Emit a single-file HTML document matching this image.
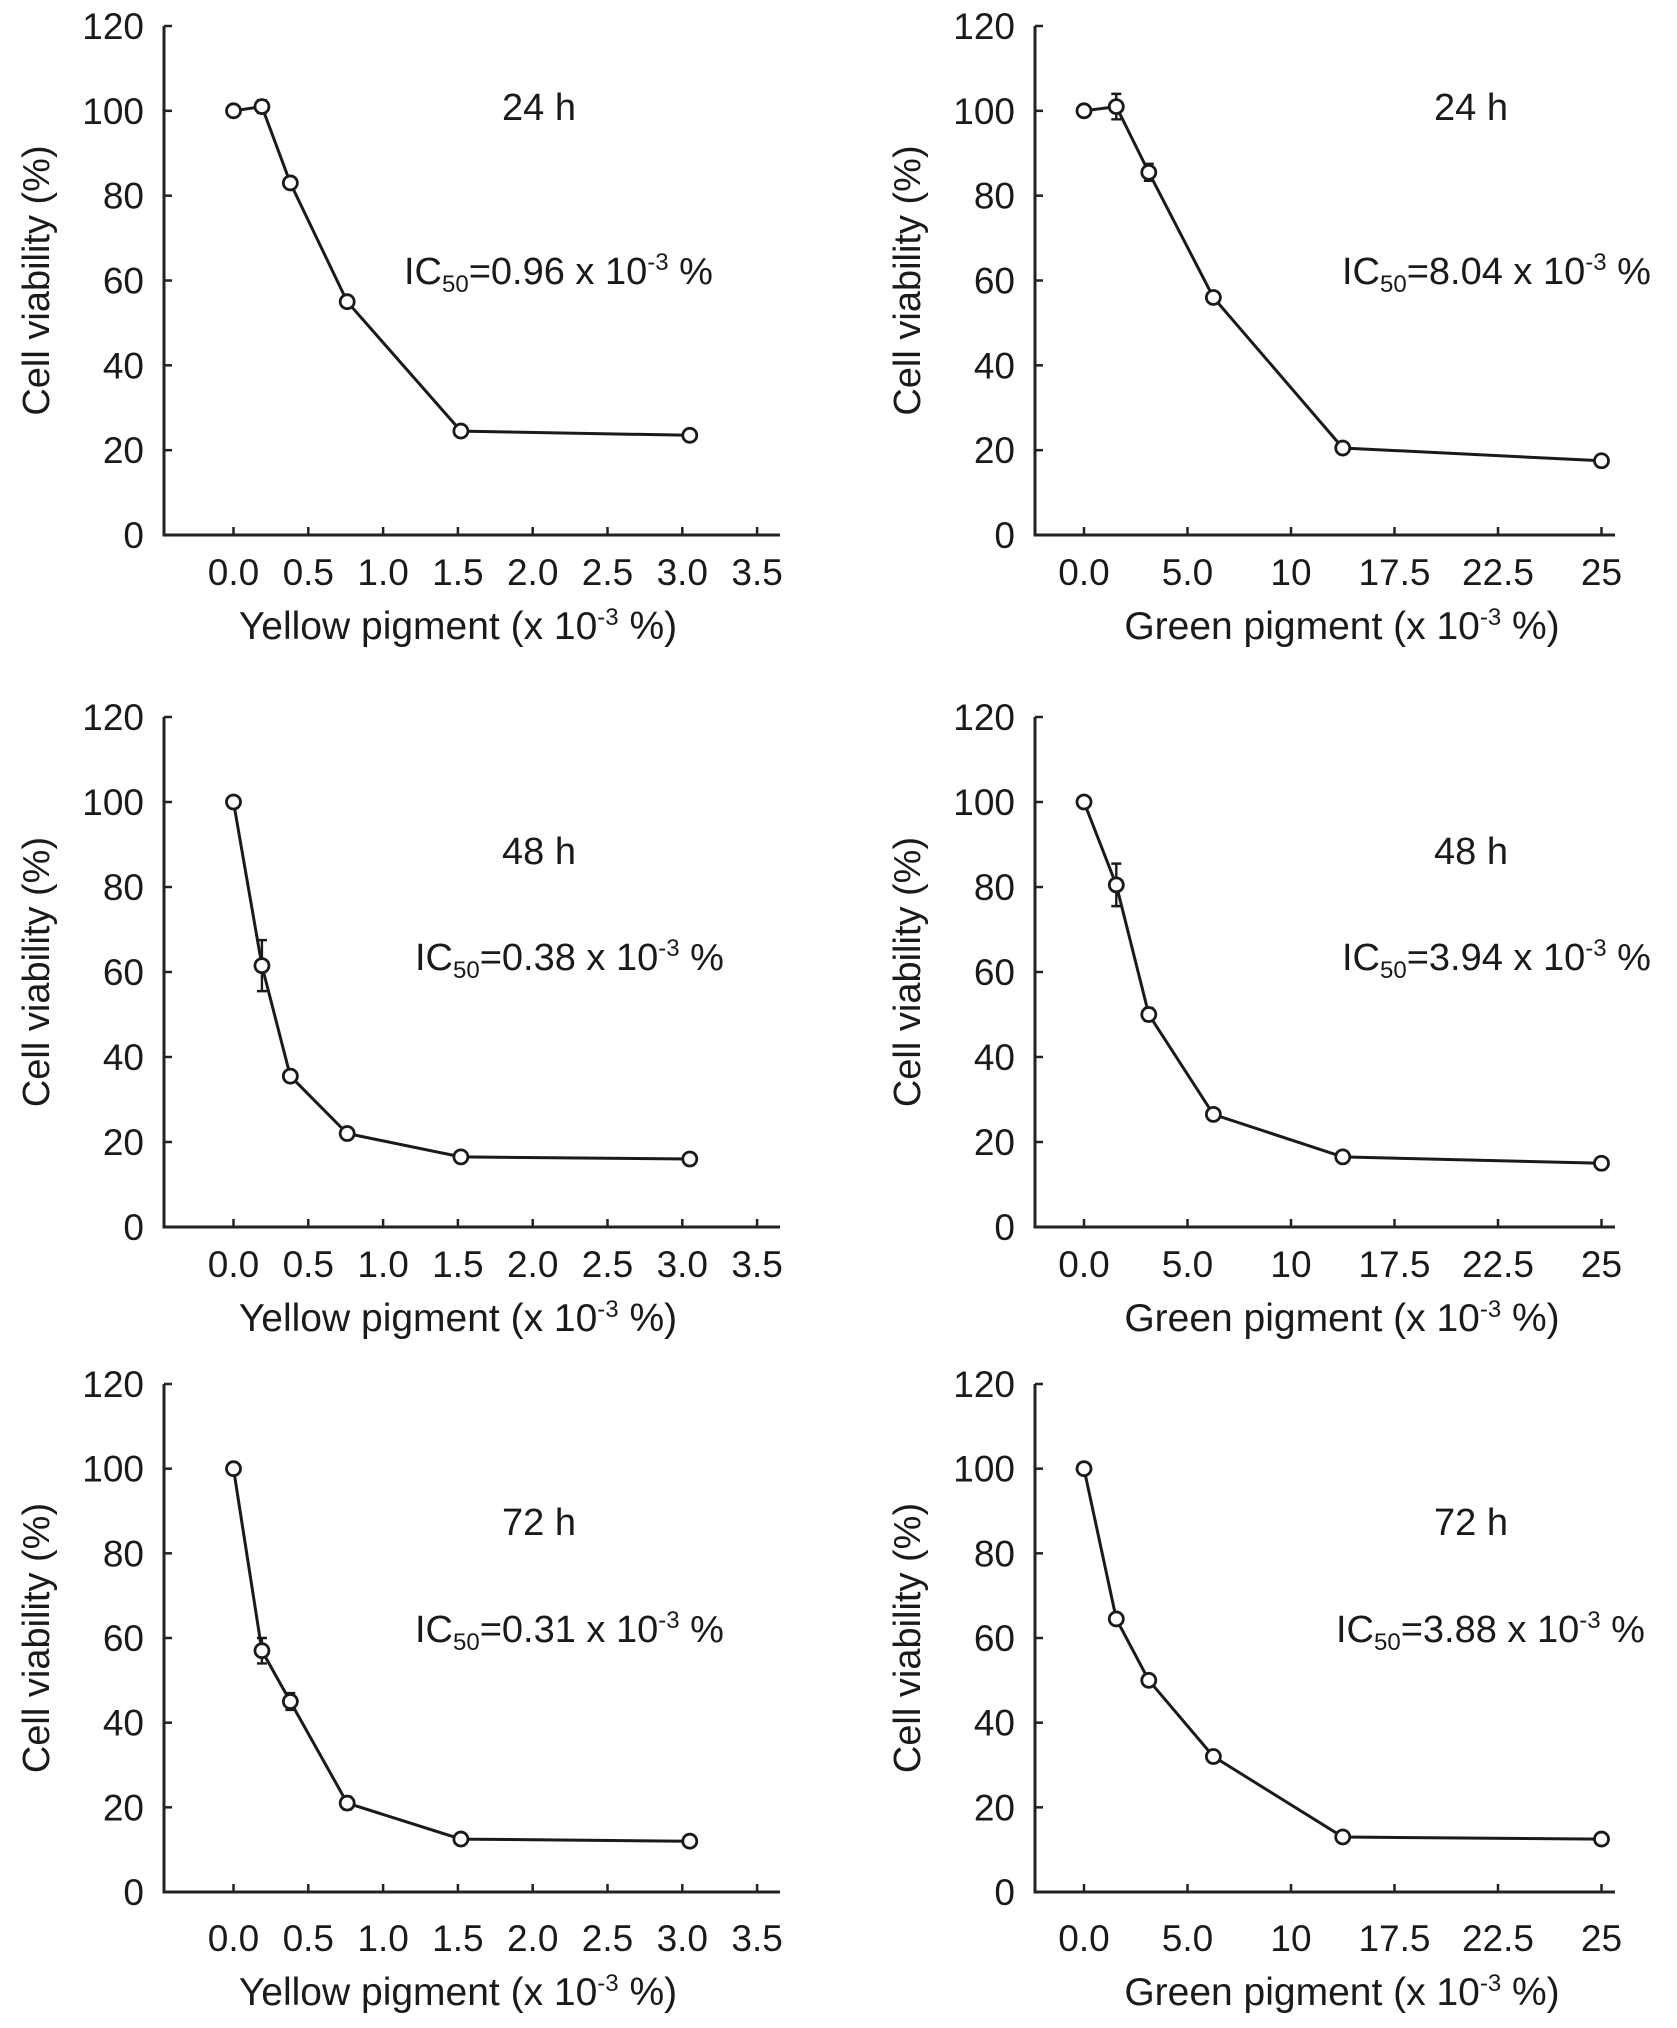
<!DOCTYPE html>
<html><head><meta charset="utf-8"><style>
html,body{margin:0;padding:0;background:#fff}
svg{display:block}
text{font-family:"Liberation Sans",sans-serif;fill:#1a1a1a}
</style></head><body>
<svg id="fig" width="1677" height="2028" viewBox="0 0 1677 2028" xmlns="http://www.w3.org/2000/svg"></svg>
<script>
const yellowX = [0, 0.19, 0.38, 0.76, 1.52, 3.05];
const greenX = [0, 1.56, 3.13, 6.25, 12.5, 25];
const yellowTickLabels = ["0.0","0.5","1.0","1.5","2.0","2.5","3.0","3.5"];
const greenTickLabels = ["0.0","5.0","10","17.5","22.5","25"];
const yTicks = [0,20,40,60,80,100,120];
const y24Yellow = [100, 101, 83, 55, 24.5, 23.5];
const y24YellowErr = [0, 1.5, 0, 0, 0, 0];
const y24Green = [100, 101, 85.5, 56, 20.5, 17.5];
const y24GreenErr = [0, 3, 2, 0, 0, 0];
const y48Yellow = [100, 61.5, 35.5, 22, 16.5, 16];
const y48YellowErr = [0, 6, 1, 0, 1, 0];
const y48Green = [100, 80.5, 50, 26.5, 16.5, 15];
const y48GreenErr = [0, 5, 1.5, 0, 1, 1];
const y72Yellow = [100, 57, 45, 21, 12.5, 12];
const y72YellowErr = [0, 3, 2, 1.5, 0, 0];
const y72Green = [100, 64.5, 50, 32, 13, 12.5];
const y72GreenErr = [0, 0, 0, 0, 0, 0];

const NS = "http://www.w3.org/2000/svg";
const svg = document.getElementById('fig');
function mk(tag, attrs, parent){const e=document.createElementNS(NS,tag);for(const k in attrs)e.setAttribute(k,attrs[k]);(parent||svg).appendChild(e);return e;}

const rows = [{top:26,bottom:535,lo:0},{top:717,bottom:1227,lo:0},{top:1384,bottom:1892,lo:9}];
const panels = [
 {row:0,side:'L',vals:y24Yellow,err:y24YellowErr,time:'24 h',ic:'0.96 x 10',name:'yellow-24h'},
 {row:0,side:'R',vals:y24Green,err:y24GreenErr,time:'24 h',ic:'8.04 x 10',name:'green-24h'},
 {row:1,side:'L',vals:y48Yellow,err:y48YellowErr,time:'48 h',ic:'0.38 x 10',name:'yellow-48h'},
 {row:1,side:'R',vals:y48Green,err:y48GreenErr,time:'48 h',ic:'3.94 x 10',name:'green-48h'},
 {row:2,side:'L',vals:y72Yellow,err:y72YellowErr,time:'72 h',ic:'0.31 x 10',name:'yellow-72h'},
 {row:2,side:'R',vals:y72Green,err:y72GreenErr,time:'72 h',ic:'3.88 x 10',name:'green-72h'}
];
const timeY=[107,851,1522], icY=[271,957,1629];

panels.forEach(p=>{
  const r=rows[p.row];
  const g=mk('g',{});
  
  
  const L = p.side==='L';
  const ax0 = L?164:1035, ax1 = L?780:1615;
  const xs = L?yellowX:greenX;
  const x0 = L?233.5:1084, perUnit = L?149.6:20.7;
  const X = v=>x0+v*perUnit;
  const Y = v=>r.bottom-(v/120)*(r.bottom-r.top);
  const axes=mk('path',{d:`M${ax0} ${r.top} V${r.bottom} H${ax1}`,fill:'none',stroke:'#222','stroke-width':3},g);
  
  
  yTicks.forEach(t=>{
    mk('line',{x1:ax0,x2:ax0+8,y1:Y(t),y2:Y(t),stroke:'#222','stroke-width':2.5},g);
    const tx=mk('text',{x:ax0-20,y:Y(t)+13,'text-anchor':'end','font-size':37},g);
    tx.textContent=t;
    
    
  });
  const labs = L?yellowTickLabels:greenTickLabels;
  labs.forEach((lab,i)=>{
    const v = L? i*0.5 : i*5;
    const xx=X(v);
    mk('line',{x1:xx,x2:xx,y1:r.bottom,y2:r.bottom-8,stroke:'#222','stroke-width':2.5},g);
    const tx=mk('text',{x:xx,y:r.bottom+50+r.lo,'text-anchor':'middle','font-size':37},g);
    tx.textContent=lab;
    
    
  });
  const yl=mk('text',{x:0,y:0,'text-anchor':'middle','font-size':38,transform:`translate(${L?49:920} ${(r.top+r.bottom)/2}) rotate(-90)`},g);
  yl.textContent='Cell viability (%)';
  
  
  const xl=mk('text',{x:L?458:1342,y:r.bottom+104+r.lo,'text-anchor':'middle','font-size':39},g);
  xl.innerHTML=(L?'Yellow':'Green')+' pigment (x 10<tspan font-size="24" dy="-14">-3</tspan><tspan dy="14"> %)</tspan>';
  
  
  const tt=mk('text',{x:L?539:1471,y:timeY[p.row]+13,'text-anchor':'middle','font-size':38},g);
  tt.textContent=p.time;
  
  
  const ic=mk('text',{x:L?(p.row===0?404:415):(p.row===2?1336:1342),y:icY[p.row]+13,'font-size':38},g);
  ic.innerHTML='IC<tspan font-size="24" dy="8">50</tspan><tspan dy="-8">='+p.ic+'</tspan><tspan font-size="24" dy="-14">-3</tspan><tspan dy="14"> %</tspan>';
  
  
  const pts=xs.map((x,i)=>X(x).toFixed(1)+','+Y(p.vals[i]).toFixed(1)).join(' ');
  const ln=mk('polyline',{points:pts,fill:'none',stroke:'#1a1a1a','stroke-width':3},g);
  
  
  xs.forEach((x,i)=>{
    const e=p.err[i];
    if(e>0){
      const cx=X(x),y1=Y(p.vals[i]+e),y2=Y(p.vals[i]-e);
      const eb=mk('path',{d:`M${cx} ${y1} V${y2} M${cx-5} ${y1} H${cx+5} M${cx-5} ${y2} H${cx+5}`,stroke:'#1a1a1a','stroke-width':2.4,fill:'none'},g);
      
      
    }
    const c=mk('circle',{cx:X(x),cy:Y(p.vals[i]),r:7,fill:'#fff',stroke:'#1a1a1a','stroke-width':2.8},g);
    
    
  });
});
</script>
</body></html>
